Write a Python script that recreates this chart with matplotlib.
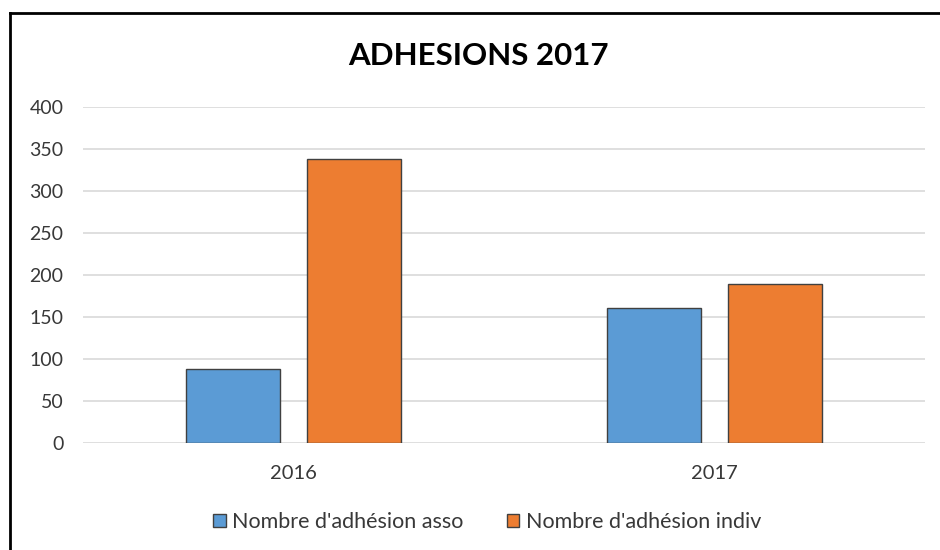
import numpy as np
import matplotlib
matplotlib.use("Agg")
import matplotlib.pyplot as plt
from matplotlib.lines import Line2D

# data
years = ["2016", "2017"]
asso = [88, 161]
indiv = [338, 189]
series_labels = ["Nombre d'adhésion asso", "Nombre d'adhésion indiv"]
yticks = [0, 50, 100, 150, 200, 250, 300, 350, 400]

BLUE = "#5B9BD5"
ORANGE = "#ED7D31"
EDGE = "#404040"
TEXT = "#383838"

plt.rcParams["font.family"] = ["Lato", "DejaVu Sans"]

fig = plt.figure(figsize=(9.4, 5.5), dpi=100)
ax = fig.add_axes([83 / 940, 1 - 443 / 550, (925 - 83) / 940, (443 - 107) / 550])

x = np.arange(len(years))
width = 0.224
offset = 0.143
ax.bar(x - offset, asso, width, color=BLUE, edgecolor=EDGE, linewidth=1.0,
       label=series_labels[0], zorder=3)
ax.bar(x + offset, indiv, width, color=ORANGE, edgecolor=EDGE, linewidth=1.0,
       label=series_labels[1], zorder=3)

ax.set_xlim(-0.5, 1.5)
ax.set_ylim(0, 400)
ax.set_yticks(yticks)
ax.set_xticks(x)
ax.set_xticklabels(years)
ax.tick_params(axis="both", length=0, labelsize=14.5, colors=TEXT)
ax.tick_params(axis="y", labelsize=14, pad=14)
ax.tick_params(axis="x", pad=16)
ax.grid(axis="y", color="#D9D9D9", linewidth=1.2, zorder=0)
for s in ax.spines.values():
    s.set_visible(False)

fig.text(478 / 940, 1 - 56 / 550, "ADHESIONS 2017", ha="center", va="center",
         fontsize=22.5, fontweight="bold", color="black")

leg = fig.legend(loc="center", bbox_to_anchor=(487 / 940, 1 - 522 / 550), ncol=2,
                 frameon=False, fontsize=15.5, handlelength=0.6, handleheight=0.6,
                 handletextpad=0.3, columnspacing=2.0)
for t in leg.get_texts():
    t.set_color(TEXT)

# chart frame (only top and left edges fall inside the picture)
fig.add_artist(Line2D([10 / 940, 10 / 940], [0, 1 - 13 / 550], color="black",
                      linewidth=2, transform=fig.transFigure))
fig.add_artist(Line2D([10 / 940, 1], [1 - 13 / 550, 1 - 13 / 550], color="black",
                      linewidth=2, transform=fig.transFigure))

fig.savefig("out.png", dpi=100)
